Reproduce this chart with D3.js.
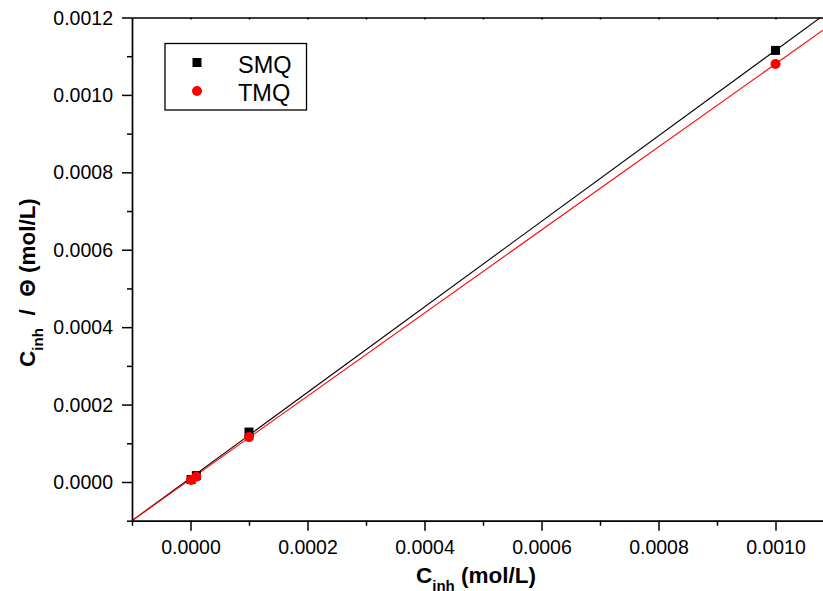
<!DOCTYPE html>
<html>
<head>
<meta charset="utf-8">
<script src="https://cdn.jsdelivr.net/npm/d3@7"></script>
<style>
  html, body { margin: 0; padding: 0; background: #fff; }
  svg { display: block; font-family: "Liberation Sans", Arial, sans-serif; }
</style>
</head>
<body>
<svg id="chart" width="823" height="591"></svg>
<script>
// Inhibitor concentration (mol/L)
const concentrations = [0.000001, 0.00001, 0.0001, 0.001];
// C_inh / θ for each inhibitor
const smqValues = [0.0000063, 0.0000165, 0.000129, 0.001115];
const tmqValues = [0.0000052, 0.0000135, 0.000116, 0.00108];
// Linear fits: [slope, intercept]
const smqFit = [1.1045, 0.0000105];
const tmqFit = [1.0728, 0.0000073];
const seriesNames = ["SMQ", "TMQ"];
const seriesColors = ["#000000", "#ff0000"];

const xMajorTicks = [0, 0.0002, 0.0004, 0.0006, 0.0008, 0.0010];
const xMinorTicks = [-0.0001, 0.0001, 0.0003, 0.0005, 0.0007, 0.0009];
const yMajorTicks = [0, 0.0002, 0.0004, 0.0006, 0.0008, 0.0010, 0.0012];
const yMinorTicks = [-0.0001, 0.0001, 0.0003, 0.0005, 0.0007, 0.0009, 0.0011];

const svg = d3.select("#chart");
const plotLeft = 132, plotTop = 17.5, plotBottom = 520.7;

const x = d3.scaleLinear().domain([-0.0001, 0.0011]).range([plotLeft, plotLeft + 1.2 * 585]);
const y = d3.scaleLinear().domain([-0.0001, 0.0012]).range([plotBottom, plotTop]);
const fmt = d3.format(".4f");

svg.append("defs").append("clipPath").attr("id", "plotClip")
  .append("rect").attr("x", plotLeft).attr("y", plotTop)
  .attr("width", x.range()[1] - plotLeft).attr("height", plotBottom - plotTop);

// Fit lines
const plot = svg.append("g").attr("clip-path", "url(#plotClip)");
[smqFit, tmqFit].forEach((f, i) => {
  const xs = x.domain();
  plot.append("line")
    .attr("x1", x(xs[0])).attr("y1", y(f[0] * xs[0] + f[1]))
    .attr("x2", x(xs[1])).attr("y2", y(f[0] * xs[1] + f[1]))
    .attr("stroke", seriesColors[i]).attr("stroke-width", 1.1);
});

// Markers
const smqPts = concentrations.map((c, i) => [c, smqValues[i]]);
const tmqPts = concentrations.map((c, i) => [c, tmqValues[i]]);
svg.append("g").selectAll("rect").data(smqPts).join("rect")
  .attr("x", d => x(d[0]) - 4.5).attr("y", d => y(d[1]) - 4.5)
  .attr("width", 9).attr("height", 9).attr("fill", seriesColors[0]);
svg.append("g").selectAll("circle").data(tmqPts).join("circle")
  .attr("cx", d => x(d[0])).attr("cy", d => y(d[1])).attr("r", 5)
  .attr("fill", seriesColors[1]);

// Axes
function styleAxis(g) {
  g.selectAll("path").attr("stroke", "#000").attr("stroke-width", 1.7);
  g.selectAll("line").attr("stroke", "#000").attr("stroke-width", 1.5);
  g.selectAll("text").attr("fill", "#000").attr("font-size", "19.5px")
    .attr("font-family", '"Liberation Sans", Arial, sans-serif');
}

const xAxis = svg.append("g").attr("transform", `translate(0,${plotBottom})`)
  .call(d3.axisBottom(x).tickValues(xMajorTicks).tickFormat(fmt).tickSize(10).tickSizeOuter(0).tickPadding(9));
xAxis.call(styleAxis);
svg.append("g").attr("transform", `translate(0,${plotBottom})`)
  .call(d3.axisBottom(x).tickValues(xMinorTicks).tickFormat("").tickSize(5).tickSizeOuter(0))
  .call(styleAxis).select("path").remove();

const yAxis = svg.append("g").attr("transform", `translate(${plotLeft},0)`)
  .call(d3.axisLeft(y).tickValues(yMajorTicks).tickFormat(fmt).tickSize(10).tickSizeOuter(0).tickPadding(9));
yAxis.call(styleAxis);
yAxis.selectAll("text").attr("dy", "0.34em");
svg.append("g").attr("transform", `translate(${plotLeft},0)`)
  .call(d3.axisLeft(y).tickValues(yMinorTicks).tickFormat("").tickSize(5).tickSizeOuter(0))
  .call(styleAxis).select("path").remove();

// Top frame with small inward ticks
svg.append("g").attr("transform", `translate(0,${plotTop})`)
  .call(d3.axisTop(x).tickValues(xMajorTicks.concat(xMinorTicks)).tickFormat("").tickSize(-2).tickSizeOuter(0))
  .call(styleAxis);

// Axis titles
const xTitle = svg.append("text")
  .attr("x", 476).attr("y", 583)
  .attr("text-anchor", "middle").attr("font-weight", "bold").attr("font-size", "22.5px");
xTitle.append("tspan").text("C");
xTitle.append("tspan").attr("font-size", "15px").attr("dy", 8).text("inh");
xTitle.append("tspan").attr("dy", -8).text(" (mol/L)");

const yTitle = svg.append("text")
  .attr("transform", "translate(35,282.5) rotate(-90)")
  .attr("text-anchor", "middle").attr("font-weight", "bold").attr("font-size", "22.5px")
  .style("white-space", "pre");
yTitle.append("tspan").text("C");
yTitle.append("tspan").attr("font-size", "15px").attr("dy", 8).text("inh");
yTitle.append("tspan").attr("dy", -8).text("  /  Θ (mol/L)");

// Legend
const legend = svg.append("g");
legend.append("rect").attr("x", 165).attr("y", 43.5).attr("width", 141.5).attr("height", 66.5)
  .attr("fill", "#fff").attr("stroke", "#000").attr("stroke-width", 1.3);
legend.append("rect").attr("x", 197 - 4.5).attr("y", 62.5 - 4.5).attr("width", 9).attr("height", 9)
  .attr("fill", seriesColors[0]);
legend.append("circle").attr("cx", 197).attr("cy", 91).attr("r", 5).attr("fill", seriesColors[1]);
seriesNames.forEach((n, i) => {
  legend.append("text").attr("x", 238).attr("y", i === 0 ? 72.5 : 100.5)
    .attr("font-size", "23.5px").attr("fill", "#000").text(n);
});
</script>
</body>
</html>
